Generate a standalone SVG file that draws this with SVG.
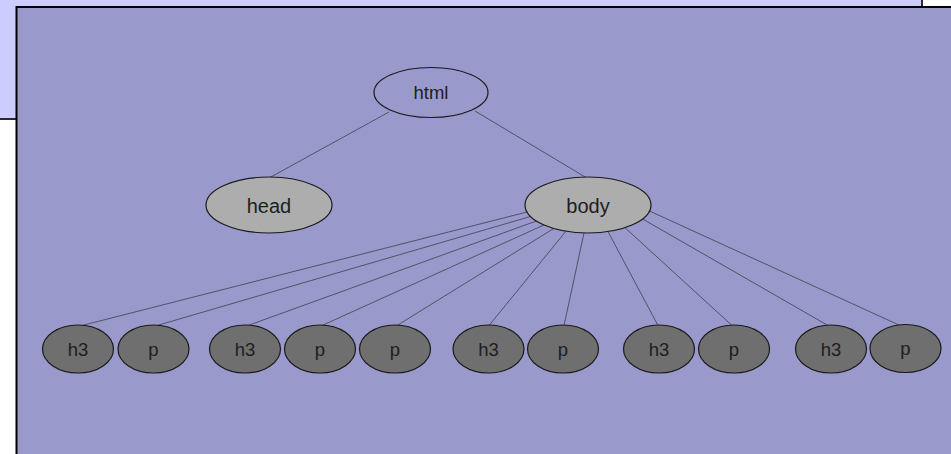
<svg xmlns="http://www.w3.org/2000/svg" width="951" height="454" viewBox="0 0 951 454">
  <style>
    .lbl { font-family: "Liberation Sans", Arial, sans-serif; fill: #1e1e1e; text-anchor: middle; dominant-baseline: central; }
    .root { fill: none; stroke: #1a1a1a; stroke-width: 1.2; }
    .mid { fill: #adadad; stroke: #1a1a1a; stroke-width: 1.2; }
    .leaf { fill: #6f6f6f; stroke: #1a1a1a; stroke-width: 1.2; }
    .edge { stroke: #222; stroke-width: 0.6; fill: none; }
    .s1 { font-size: 18.5px; }
    .s2 { font-size: 20px; }
    .s3 { font-size: 18.5px; }
  </style>
  <rect x="0" y="0" width="951" height="454" fill="#ffffff"/>
  <!-- background slide panel -->
  <rect x="-2" y="-2" width="924" height="121" fill="#ccccff" stroke="#2a2a2a" stroke-width="2"/>
  <!-- main panel -->
  <rect x="16.5" y="7" width="960" height="470" fill="#9999cc" stroke="#000" stroke-width="2"/>

  <g id="connectors" class="edge">
    <line x1="389" y1="112" x2="269" y2="178"/>
    <line x1="475" y1="111" x2="586" y2="177.5"/>
    <line x1="527" y1="212" x2="82" y2="325.5"/>
    <line x1="530.5" y1="216.5" x2="157" y2="325.5"/>
    <line x1="536.3" y1="221" x2="248" y2="325.5"/>
    <line x1="543.9" y1="225" x2="322" y2="325.5"/>
    <line x1="553.7" y1="228.5" x2="397" y2="325.5"/>
    <line x1="566" y1="231.2" x2="489" y2="325.5"/>
    <line x1="584" y1="233" x2="564" y2="325.5"/>
    <line x1="608" y1="231.6" x2="658" y2="325.5"/>
    <line x1="625" y1="227.7" x2="732" y2="325.5"/>
    <line x1="642.6" y1="219" x2="828" y2="325.5"/>
    <line x1="649.5" y1="211" x2="900" y2="325.5"/>
  </g>

  <g id="html"><ellipse class="root" cx="431" cy="92.5" rx="57" ry="25"/><text class="lbl s1" x="431" y="92">html</text></g>
  <g id="head"><ellipse class="mid" cx="269" cy="205" rx="63" ry="28"/><text class="lbl s2" x="269" y="205.5">head</text></g>
  <g id="body"><ellipse class="mid" cx="588" cy="205" rx="63" ry="28"/><text class="lbl s2" x="588" y="205.5">body</text></g>

  <g id="h3-1"><ellipse class="leaf" cx="78" cy="349" rx="35.5" ry="24"/><text class="lbl s3" x="78" y="349">h3</text></g>
  <g id="p-1"><ellipse class="leaf" cx="153.5" cy="349" rx="35.5" ry="24"/><text class="lbl s3" x="153.5" y="349">p</text></g>
  <g id="h3-2"><ellipse class="leaf" cx="245" cy="349" rx="35.5" ry="24"/><text class="lbl s3" x="245" y="349">h3</text></g>
  <g id="p-2"><ellipse class="leaf" cx="320" cy="349" rx="35.5" ry="24"/><text class="lbl s3" x="320" y="349">p</text></g>
  <g id="p-3"><ellipse class="leaf" cx="395" cy="349" rx="35.5" ry="24"/><text class="lbl s3" x="395" y="349">p</text></g>
  <g id="h3-3"><ellipse class="leaf" cx="488.5" cy="349" rx="35.5" ry="24"/><text class="lbl s3" x="488.5" y="349">h3</text></g>
  <g id="p-4"><ellipse class="leaf" cx="563" cy="349" rx="35.5" ry="24"/><text class="lbl s3" x="563" y="349">p</text></g>
  <g id="h3-4"><ellipse class="leaf" cx="659" cy="349" rx="35.5" ry="24"/><text class="lbl s3" x="659" y="349">h3</text></g>
  <g id="p-5"><ellipse class="leaf" cx="734" cy="349" rx="35.5" ry="24"/><text class="lbl s3" x="734" y="349">p</text></g>
  <g id="h3-5"><ellipse class="leaf" cx="831" cy="349" rx="35.5" ry="24"/><text class="lbl s3" x="831" y="349">h3</text></g>
  <g id="p-6"><ellipse class="leaf" cx="905.5" cy="348.5" rx="35.5" ry="24"/><text class="lbl s3" x="905.5" y="348.5">p</text></g>
</svg>
